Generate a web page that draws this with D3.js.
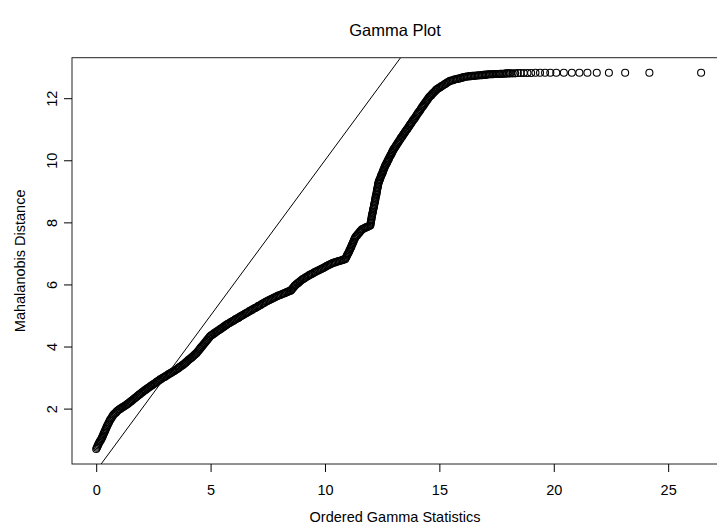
<!DOCTYPE html>
<html>
<head>
<meta charset="utf-8">
<script src="https://cdn.jsdelivr.net/npm/d3@7"></script>
<style>
  body { margin: 0; background: #fff; }
  svg { display: block; }
  text { font-family: "Liberation Sans", Arial, Helvetica, sans-serif; fill: #000; }
</style>
</head>
<body>
<svg id="chart" width="717" height="527"></svg>
<script>
// Ordered gamma statistics (x) and sorted Mahalanobis distances (y)
const gammaStats = [
  0.00,0.03,0.05,0.08,0.10, 0.13,0.16,0.19,0.22,0.25,
  0.27,0.30,0.32,0.35,0.37,0.40,0.42,0.45,0.47, 0.50,0.53,0.56,0.59,0.62,
  0.66,0.69,0.73,0.76, 0.81,0.86,0.90,0.95,1.00, 1.05,1.10,1.15,1.19,1.24,1.29,1.34,
  1.39,1.44,1.49,1.53,1.58,1.63,1.68,1.73,1.78,1.83,1.88,1.92,1.97,2.02,2.07,
  2.12,2.17,2.22,2.26,2.31,2.36,2.41,2.46,2.51,2.56,2.61,2.65,2.70,2.75,2.80,
  2.85,2.91,2.96,3.01,3.06,3.12,3.17,3.22,3.27,3.33,3.38,
  3.43,3.48,3.53,3.58,3.62,3.67,3.72,3.77,3.82,
  3.86,3.91,3.95,4.00,4.04,4.09,4.13,4.18,4.22,4.27,4.31,4.36,4.40,
  4.44,4.48,4.52,4.55,4.59,4.63,4.67,4.71,4.75,4.79,4.83,4.86,4.90,4.94,4.98,
  5.03,5.08,5.13,5.17,5.22,5.27,5.32,5.37,5.42,5.47,5.52,5.57,5.61,5.66,5.71,
  5.76,5.81,5.87,5.92,5.97,6.02,6.07,6.12,6.18,6.23,6.28,6.33,6.38,6.43,6.49,6.54,6.59,
  6.64,6.70,6.75,6.81,6.86,6.92,6.97,7.03,7.08,7.13,7.19,7.24,7.30,7.35,7.41,7.46,
  7.52,7.57,7.63,7.68,7.74,7.79,7.85,7.90, 7.96,8.01,8.07,8.13,8.19,8.24,8.30,
  8.35,8.40,8.45,8.50, 8.54,8.58,8.62,8.66,8.70, 8.74,8.79,8.83,8.88,8.92,
  8.98,9.03,9.09,9.14,9.20, 9.26,9.31,9.37,9.42,9.48,9.54,9.59,9.65,
  9.71,9.76,9.82,9.87,9.93,9.98,10.04,10.09,10.15,10.20,10.26,10.31,10.37,
  10.43,10.48,10.54,10.60,10.65,10.71,10.77,10.82,10.88,
  10.91,10.94,10.96,10.99,11.02,11.05,11.07,11.10,
  11.12,11.15,11.17,11.20,11.22,11.25,11.27,11.30,11.32,
  11.36,11.40,11.44,11.49,11.53,11.57,11.61, 11.66,11.72,11.77,11.82,11.87,11.93,11.98,
  11.99,12.00,12.01,12.02,12.03,12.04,12.05,
  12.06,12.08,12.09,12.10,12.11,12.13,12.14,12.15,12.16,12.18,12.19,12.20,
  12.21,12.22,12.24,12.25,12.26,12.27,12.28,12.29,12.31,12.32,12.33,12.34,
  12.36,12.38,12.41,12.43,12.45,12.47,12.50,12.52,12.54,12.56,12.59,12.61,12.63,
  12.66,12.69,12.72,12.74,12.77,12.80,12.83,12.86,12.89,12.92,12.94,12.97,13.00,
  13.03,13.07,13.10,13.13,13.17,13.20,13.23,13.27,13.30,13.33,13.37,13.40,
  13.43,13.47,13.50,13.53,13.57,13.60,13.63,13.67,13.70,13.73,13.77,13.80,
  13.84,13.87,13.91,13.94,13.98,14.01,14.05,14.08,14.12,14.16,14.19,
  14.23,14.26,14.30,14.33,14.37,14.41,14.44,14.48,14.51,14.55,
  14.59,14.64,14.68,14.72,14.76,14.81,14.85,14.89,
  14.94,15.00,15.05,15.10,15.15,15.21,15.26,15.31,15.36,15.42,15.47,
  15.53,15.59,15.65,15.71,15.77,15.83,15.90,15.96,16.02,16.08,16.14,16.20,
  16.26,16.32,16.38,16.44,16.50,16.56,16.62,16.68,16.74,16.80,16.86,16.92,16.98,17.04,17.10,17.16,17.22,
  17.28,17.35,17.41,17.47,17.54,17.60,17.66,17.72,17.79,17.85,17.91,17.97,18.04,18.10,
  18.20,18.31,18.43,18.55,18.69,18.85,19.01,19.20,19.40,19.62,19.85,20.11,20.44,20.79,
  21.12,21.47,21.88,22.41,23.12,24.18,26.44
];

const mahalanobis = [
  0.70,0.74,0.78,0.82,0.86, 0.90,0.94,0.97,1.01,1.05,
  1.09,1.13,1.18,1.22,1.26,1.30,1.35,1.39,1.43, 1.47,1.52,1.56,1.61,1.65,
  1.69,1.73,1.77,1.81, 1.84,1.87,1.91,1.94,1.97, 1.99,2.02,2.04,2.06,2.08,2.11,2.13,
  2.16,2.19,2.22,2.24,2.27,2.30,2.33,2.36,2.39,2.42,2.45,2.47,2.50,2.53,2.56,
  2.59,2.61,2.64,2.66,2.69,2.71,2.74,2.76,2.79,2.81,2.84,2.86,2.89,2.91,2.94,
  2.96,2.99,3.01,3.03,3.06,3.08,3.11,3.13,3.15,3.18,3.20,
  3.22,3.25,3.27,3.30,3.32,3.35,3.37,3.40,3.42,
  3.45,3.48,3.51,3.54,3.57,3.60,3.62,3.65,3.68,3.71,3.74,3.77,3.80,
  3.84,3.87,3.91,3.94,3.98,4.01,4.05,4.08,4.12,4.15,4.19,4.22,4.26,4.29,4.33,
  4.36,4.38,4.41,4.43,4.46,4.48,4.51,4.53,4.56,4.58,4.61,4.63,4.66,4.68,4.71,
  4.73,4.75,4.78,4.80,4.82,4.84,4.87,4.89,4.91,4.93,4.96,4.98,5.00,5.02,5.05,5.07,5.09,
  5.11,5.14,5.16,5.18,5.21,5.23,5.25,5.27,5.30,5.32,5.34,5.37,5.39,5.41,5.44,5.46,
  5.48,5.50,5.52,5.54,5.56,5.58,5.60,5.62, 5.64,5.65,5.67,5.69,5.71,5.72,5.74,
  5.76,5.77,5.79,5.80, 5.83,5.87,5.90,5.94,5.97, 6.00,6.03,6.05,6.08,6.11,
  6.14,6.17,6.19,6.22,6.25, 6.27,6.30,6.32,6.34,6.36,6.39,6.41,6.43,
  6.45,6.47,6.49,6.51,6.53,6.55,6.58,6.60,6.62,6.64,6.66,6.68,6.70,
  6.71,6.72,6.74,6.75,6.76,6.77,6.79,6.80,6.81,
  6.85,6.89,6.93,6.97,7.01,7.05,7.09,7.13,
  7.17,7.21,7.26,7.30,7.34,7.38,7.43,7.47,7.51,
  7.55,7.58,7.62,7.66,7.70,7.73,7.77, 7.79,7.81,7.83,7.85,7.86,7.88,7.90,
  7.94,7.99,8.03,8.07,8.11,8.16,8.20,
  8.25,8.29,8.34,8.38,8.43,8.47,8.52,8.56,8.61,8.65,8.70,8.74,
  8.79,8.83,8.88,8.92,8.97,9.01,9.06,9.10,9.15,9.19,9.24,9.28,
  9.32,9.36,9.40,9.45,9.49,9.53,9.57,9.61,9.65,9.69,9.74,9.78,9.82,
  9.86,9.90,9.94,9.98,10.02,10.06,10.11,10.15,10.19,10.23,10.27,10.31,10.35,
  10.39,10.43,10.46,10.50,10.54,10.58,10.61,10.65,10.69,10.73,10.76,10.80,
  10.84,10.87,10.91,10.94,10.98,11.01,11.05,11.09,11.12,11.16,11.19,11.23,
  11.27,11.31,11.34,11.38,11.42,11.46,11.50,11.54,11.57,11.61,11.65,
  11.69,11.73,11.76,11.80,11.84,11.88,11.92,11.95,11.99,12.03,
  12.06,12.09,12.13,12.16,12.19,12.22,12.26,12.29,
  12.31,12.34,12.36,12.39,12.41,12.44,12.46,12.49,12.51,12.54,12.56,
  12.57,12.58,12.60,12.61,12.62,12.63,12.64,12.65,12.67,12.68,12.69,12.70,
  12.70,12.71,12.71,12.72,12.72,12.72,12.73,12.73,12.74,12.74,12.74,12.75,12.75,12.76,12.76,12.77,12.77,
  12.77,12.77,12.78,12.78,12.78,12.78,12.79,12.79,12.79,12.79,12.80,12.80,12.80,12.80,
  12.80,12.80,12.81,12.81,12.81,12.81,12.81,12.82,12.82,12.82,12.82,12.82,12.82,12.82,
  12.82,12.82,12.82,12.82,12.82,12.82,12.82
];

const xTickValues = [0, 5, 10, 15, 20, 25];
const yTickValues = [2, 4, 6, 8, 10, 12];
const refLine = { intercept: 0, slope: 1 };
const labels = {
  title: "Gamma Plot",
  x: "Ordered Gamma Statistics",
  y: "Mahalanobis Distance"
};

const W = 717, H = 527;
const plot = { left: 72, right: 725.3, top: 57.7, bottom: 464 };

// base-graphics style ranges: data extent widened by 4% on each side
function padded(values) {
  const [lo, hi] = d3.extent(values);
  const r = hi - lo;
  return [lo - 0.04 * r, hi + 0.04 * r];
}

const x = d3.scaleLinear().domain(padded(gammaStats)).range([plot.left, plot.right]);
const y = d3.scaleLinear().domain(padded(mahalanobis)).range([plot.bottom, plot.top]);

const svg = d3.select("#chart");

svg.append("defs").append("clipPath").attr("id", "plot-clip")
  .append("rect")
  .attr("x", plot.left).attr("y", plot.top)
  .attr("width", plot.right - plot.left).attr("height", plot.bottom - plot.top);

// points (open circles)
const points = d3.zip(gammaStats, mahalanobis);
svg.append("g")
  .selectAll("circle")
  .data(points)
  .join("circle")
  .attr("cx", d => x(d[0]))
  .attr("cy", d => y(d[1]))
  .attr("r", 3.5)
  .attr("fill", "none")
  .attr("stroke", "#000")
  .attr("stroke-width", 1.1);

// reference line y = a + b x
const xd = x.domain();
svg.append("line")
  .attr("clip-path", "url(#plot-clip)")
  .attr("x1", x(xd[0])).attr("y1", y(refLine.intercept + refLine.slope * xd[0]))
  .attr("x2", x(xd[1])).attr("y2", y(refLine.intercept + refLine.slope * xd[1]))
  .attr("stroke", "#000").attr("stroke-width", 1);

// plot frame
svg.append("rect")
  .attr("x", plot.left).attr("y", plot.top)
  .attr("width", plot.right - plot.left).attr("height", plot.bottom - plot.top)
  .attr("fill", "none").attr("stroke", "#222").attr("stroke-width", 1);

// axes
const tickLen = 8;
const xAxis = svg.append("g")
  .attr("transform", `translate(0,${plot.bottom})`)
  .call(d3.axisBottom(x).tickValues(xTickValues).tickSize(tickLen).tickFormat(d3.format("d")));
xAxis.select(".domain").remove();
xAxis.selectAll("line").attr("stroke", "#000");
xAxis.selectAll("text").attr("font-size", 14.5).attr("dy", null).attr("y", 31)
  .attr("font-family", '"Liberation Sans", Arial, sans-serif').attr("fill", "#000");

const yAxis = svg.append("g")
  .attr("transform", `translate(${plot.left},0)`)
  .call(d3.axisLeft(y).tickValues(yTickValues).tickSize(tickLen).tickFormat(d3.format("d")));
yAxis.select(".domain").remove();
yAxis.selectAll("line").attr("stroke", "#000");
yAxis.selectAll("text")
  .attr("x", null).attr("dy", null)
  .attr("font-size", 14.5)
  .attr("font-family", '"Liberation Sans", Arial, sans-serif').attr("fill", "#000")
  .attr("text-anchor", "middle")
  .attr("transform", "translate(-15,0) rotate(-90)");

// titles
svg.append("text")
  .attr("x", 395).attr("y", 36)
  .attr("text-anchor", "middle")
  .attr("font-size", 16.5)
  .text(labels.title);

svg.append("text")
  .attr("x", 395).attr("y", 522)
  .attr("text-anchor", "middle")
  .attr("font-size", 14.5)
  .text(labels.x);

svg.append("text")
  .attr("transform", `translate(25,${(plot.top + plot.bottom) / 2}) rotate(-90)`)
  .attr("text-anchor", "middle")
  .attr("font-size", 14.5)
  .text(labels.y);
</script>
</body>
</html>
